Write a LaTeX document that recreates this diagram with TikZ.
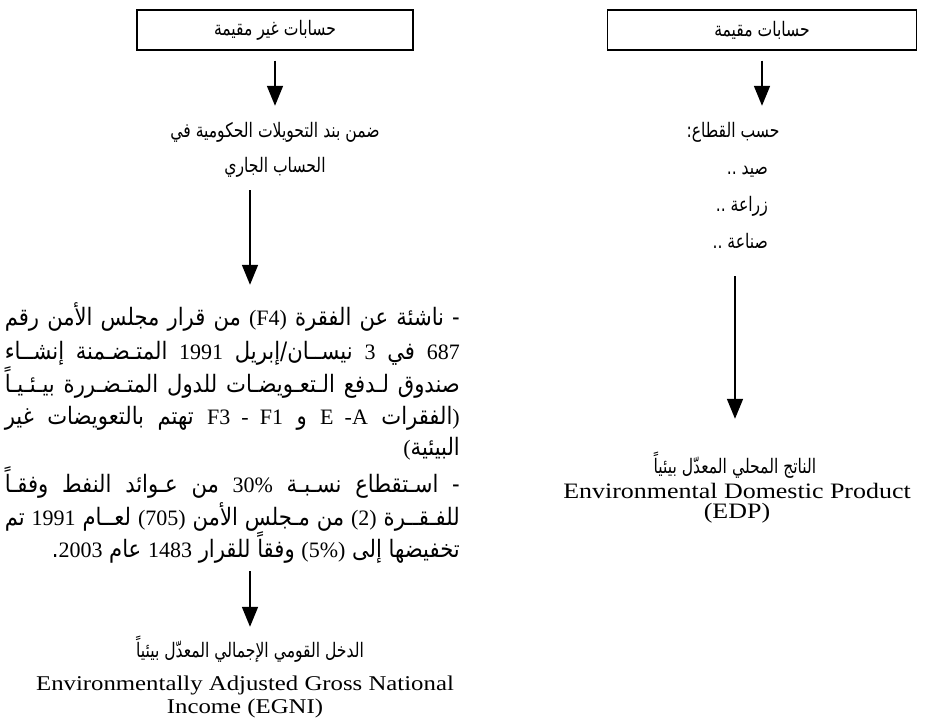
\documentclass[tikz,border=0pt]{standalone}
\usepackage{fontspec}
\setmainfont{Liberation Serif}
\newfontfamily\arabicfont[Script=Arabic,FakeStretch=0.88]{DejaVu Sans}
\newfontfamily\arabicnarrow[Script=Arabic,FakeStretch=0.78]{DejaVu Sans}
\newfontfamily\engfont[FakeStretch=1.18]{Liberation Serif}
\TeXXeTstate=1
\usetikzlibrary{arrows.meta,positioning}
\newcommand\artext[1]{{\arabicfont\beginR #1\endR}}
\newcommand\arnarrow[1]{{\arabicnarrow\beginR #1\endR}}
\newcommand\latn[1]{\beginL{\rmfamily\fontsize{22}{22}\selectfont #1}\endL}
\newcommand\jline[1]{\hbox to 455pt{\arabicfont\beginR #1\endR}}

\begin{document}
\begin{tikzpicture}[x=1pt,y=-1pt,
	box/.style={draw,line width=1.4pt,minimum height=40pt,inner sep=0pt,font=\fontsize{20}{22}\selectfont},
	arr/.style={line width=1.7pt,-{Triangle[width=16pt,length=20pt]}},
	artxt/.style={font=\fontsize{20}{22}\selectfont,inner sep=0pt,text height=16pt,text depth=5pt,anchor=base},
	partxt/.style={font=\fontsize{24}{26}\selectfont,inner sep=0pt,text height=18pt,text depth=6pt,anchor=base east},
	entxt/.style={font=\engfont\fontsize{21}{22}\selectfont,inner sep=0pt,text height=14pt,text depth=4pt,anchor=base}]
	\useasboundingbox (0,0) rectangle (937,722);
	% left column
	\node[box,minimum width=276pt] (nres) at (275,30) {\arnarrow{حسابات غير مقيمة}};
	\node[artxt] (transf1) at (275,138) {\arnarrow{ضمن بند التحويلات الحكومية في}};
	\node[artxt] (transf2) at (275,173) {\arnarrow{الحساب الجاري}};
	\node[partxt] (pa1) at (460,325) {\jline{- ناشئة عن الفقرة \latn{(F4)} من قرار مجلس الأمن رقم}};
	\node[partxt] (pa2) at (460,359) {\jline{\latn{687} في \latn{3} نيســان/إبريل \latn{1991} المتـضـمنة إنشــاء}};
	\node[partxt] (pa3) at (460,392) {\jline{صندوق لـدفع الـتعـويضـات للدول المتـضـررة بيـئـيـاً}};
	\node[partxt] (pa4) at (460,424) {\jline{\latn{)}الفقرات \latn{E -A} و \latn{F3 - F1} تهتم بالتعويضات غير}};
	\node[partxt] (pa5) at (460,455) {\artext{البيئية\latn{(}}};
	\node[partxt] (pa6) at (460,492) {\jline{- اسـتقطاع نسـبـة \latn{30\%} من عـوائد النفط وفقـاً}};
	\node[partxt] (pa7) at (460,525) {\jline{للفـقــرة \latn{(2)} من مـجلس الأمن \latn{(705)} لعــام \latn{1991} تم}};
	\node[partxt] (pa8) at (460,557) {\artext{تخفيضها إلى \latn{(5\%)} وفقاً للقرار \latn{1483} عام \latn{2003}.}};
	\node[artxt] (egni) at (250,657) {\arnarrow{الدخل القومي الإجمالي المعدّل بيئياً}};
	\node[entxt] (egni1) at (245,690) {Environmentally Adjusted Gross National};
	\node[entxt] (egni2) at (245,713) {Income (EGNI)};
	% right column
	\node[box,minimum width=309pt] (res) at (762,30) {\arnarrow{حسابات مقيمة}};
	\node[artxt] (sector) at (733,138) {\arnarrow{حسب القطاع:}};
	\node[artxt,anchor=base east] (it1) at (768,175) {\arnarrow{صيد ..}};
	\node[artxt,anchor=base east] (it2) at (768,212) {\arnarrow{زراعة ..}};
	\node[artxt,anchor=base east] (it3) at (768,248) {\arnarrow{صناعة ..}};
	\node[artxt] (edp) at (735,473) {\arnarrow{الناتج المحلي المعدّل بيئياً}};
	\node[entxt] (edp1) at (737,498) {\fontsize{22}{22}\selectfont Environmental Domestic Product};
	\node[entxt] (edp2) at (737,518) {\fontsize{22}{22}\selectfont (EDP)};
	% arrows
	\draw[arr,shorten <=10pt,shorten >=16pt] (nres.south) -- (nres.south |- transf1.north);
	\draw[arr,shorten <=12pt,shorten >=22pt] (transf2.south -| egni) -- (pa1.north -| egni);
	\draw[arr,shorten <=8pt,shorten >=14pt] (pa8.south -| egni) -- (egni.north);
	\draw[arr,shorten <=23pt,shorten >=38pt] (it3.south -| edp) -- (edp.north);
	\draw[arr,shorten <=10pt,shorten >=16pt] (res.south) -- (res.south |- sector.north);
\end{tikzpicture}
\end{document}
